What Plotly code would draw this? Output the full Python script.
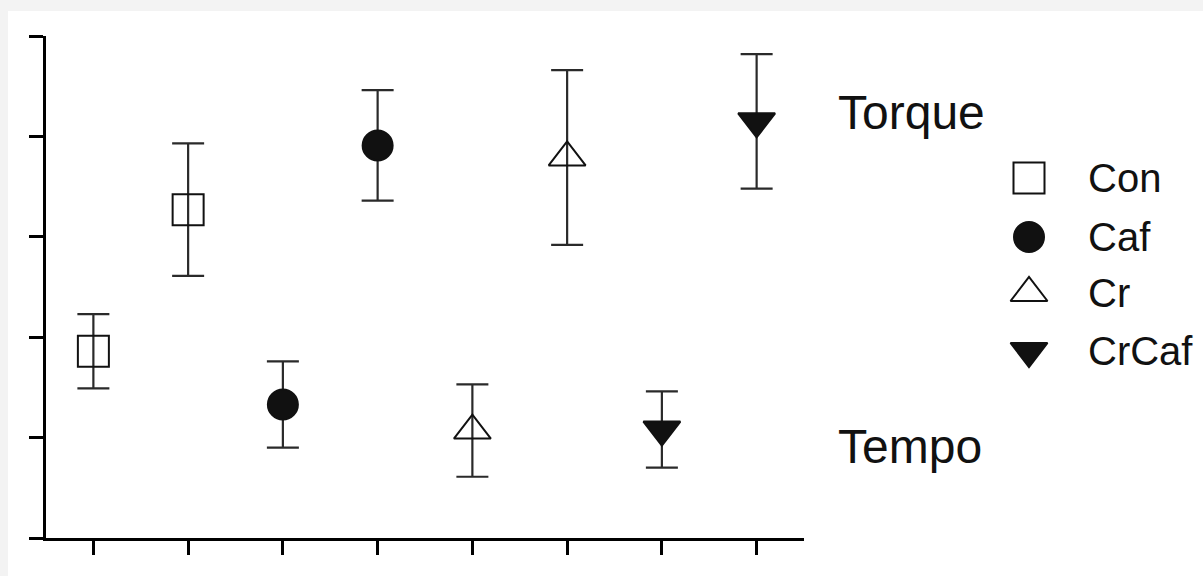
import plotly.graph_objects as go

# ---- data ----
groups = ["Con", "Caf", "Cr", "CrCaf"]
tempo_mean = [1.86, 1.33, 1.07, 1.08]
tempo_err = [0.37, 0.43, 0.46, 0.38]
torque_mean = [3.27, 3.91, 3.79, 4.15]
torque_err = [0.66, 0.55, 0.87, 0.67]
x_positions = [1, 2, 3, 4, 5, 6, 7, 8]
measure_labels = ["Torque", "Tempo"]

# ---- style ----
symbols = ["square-open", "circle", "triangle-up-open", "triangle-down"]
sizes = [31, 30, 32, 32]
INK = "#111111"
W, H = 1203, 576
ML, MR, MT, MB = 46, 0, 36, 38
PW = W - ML - MR
PH = H - MT - MB
PLOT_RIGHT = 804


def px(xpix):
    return (xpix - ML) / PW


def py(ypix):
    return (H - MB - ypix) / PH


fig = go.Figure()

for i, g in enumerate(groups):
    fig.add_trace(go.Scatter(
        x=[x_positions[2 * i], x_positions[2 * i + 1]],
        y=[tempo_mean[i], torque_mean[i]],
        mode="markers",
        name=g,
        showlegend=False,
        marker=dict(symbol=symbols[i], size=sizes[i], color=INK,
                    line=dict(color=INK, width=2)),
        error_y=dict(type="data", array=[tempo_err[i], torque_err[i]],
                     color="#2a2a2a", thickness=2.2, width=16),
        xaxis="x", yaxis="y",
    ))

# manual legend key (page-pixel axes)
legend_x = 1029
legend_rows = [178, 237, 293, 351]
for i, g in enumerate(groups):
    fig.add_trace(go.Scatter(
        x=[legend_x], y=[legend_rows[i]], mode="markers", showlegend=False,
        marker=dict(symbol=symbols[i], size=sizes[i], color=INK,
                    line=dict(color=INK, width=2)),
        xaxis="x2", yaxis="y2", hoverinfo="skip",
    ))

annotations = []
for i, g in enumerate(groups):
    annotations.append(dict(
        text=g, xref="paper", yref="paper", x=px(1086), y=py(legend_rows[i]),
        xanchor="left", yanchor="middle", showarrow=False,
        font=dict(family="Liberation Sans, Arial", size=40, color=INK)))

label_y = [113, 447]
for lab, yy in zip(measure_labels, label_y):
    annotations.append(dict(
        text=lab, xref="paper", yref="paper", x=px(836), y=py(yy),
        xanchor="left", yanchor="middle", showarrow=False,
        font=dict(family="Liberation Sans, Arial", size=48, color=INK)))

axis_common = dict(showline=True, linecolor="black", linewidth=3,
                   ticks="outside", ticklen=14, tickwidth=3, tickcolor="black",
                   showticklabels=False, showgrid=False, zeroline=False)

fig.update_layout(
    width=W, height=H,
    margin=dict(l=ML, r=MR, t=MT, b=MB, pad=0),
    paper_bgcolor="#f3f3f3",
    plot_bgcolor="rgba(0,0,0,0)",
    showlegend=False,
    xaxis=dict(range=[0.5, 8.5], domain=[0, (PLOT_RIGHT - ML) / PW],
               tickvals=x_positions, anchor="y", **axis_common),
    yaxis=dict(range=[0, 5], tickvals=[0, 1, 2, 3, 4, 5], anchor="x",
               **axis_common),
    xaxis2=dict(range=[ML, W - MR], domain=[0, 1], visible=False,
                anchor="y2", fixedrange=True),
    yaxis2=dict(range=[H - MB, MT], domain=[0, 1], visible=False,
                anchor="x2", fixedrange=True),
    annotations=annotations,
    shapes=[dict(type="rect", xref="paper", yref="paper", layer="below",
                 x0=px(8), x1=px(W + 5), y0=py(H + 5), y1=py(11),
                 fillcolor="white", line=dict(width=0))],
)

fig.write_html(
    "out.html",
    config={"displayModeBar": False},
    post_script="document.body.style.margin='0';document.body.style.overflow='hidden';",
)
